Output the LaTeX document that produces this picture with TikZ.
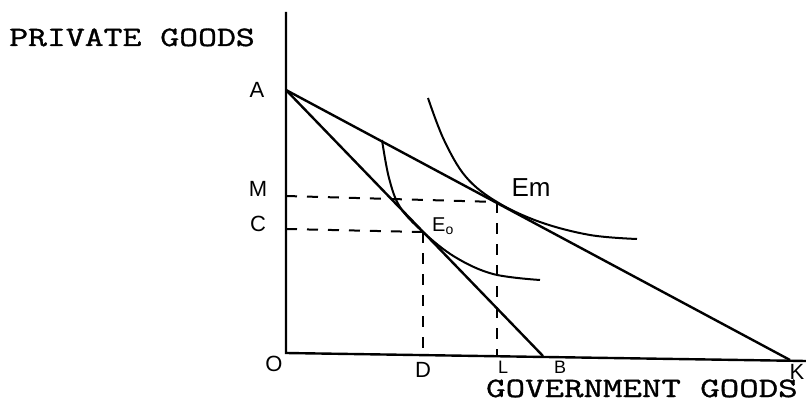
\documentclass[tikz,border=0pt]{standalone}
\usepackage{fontspec}
\setsansfont{Liberation Sans}
\newfontfamily\typewa[FakeStretch=1.31,FakeBold=1.2]{Latin Modern Mono}
\newfontfamily\typewb[FakeStretch=1.35,FakeBold=1.2]{Latin Modern Mono}
\begin{document}
\begin{tikzpicture}[x=1pt,y=-1pt,
  axis/.style={line width=2.4pt},
  budget/.style={line width=2.4pt},
  icurve/.style={line width=2pt},
  guide/.style={line width=2pt,dash pattern=on 11pt off 10pt},
  hand/.style={font=\sffamily\fontsize{22}{22}\selectfont,inner sep=0pt},
  title/.style={inner sep=0pt,anchor=base west}]
\useasboundingbox (0,0) rectangle (806,401);
% coordinates
\coordinate (top) at (286,12);
\coordinate (O) at (286,353);
\coordinate (xend) at (806,361);
\coordinate (A) at (286,90);
\coordinate (B) at (543,356);
\coordinate (K) at (790,360);
\coordinate (Em) at (497,202);
\coordinate (E0) at (423,232);
\coordinate (Mpt) at (286,196);
\coordinate (Cpt) at (286,229);
\coordinate (Dpt) at (423,355);
\coordinate (Lpt) at (497,356);
% axes
\draw[axis] (top) -- (O) -- (xend);
% budget lines
\draw[budget] (A) -- (K);
\draw[budget] (A) -- (B);
% indifference curves
\draw[icurve] plot[smooth,tension=0.6] coordinates {(382,140) (389,178) (400,207) (E0) (455,257) (493,274) (540,280)};
\draw[icurve] plot[smooth,tension=0.6] coordinates {(428,98) (444,140) (466,177) (Em) (540,222) (590,235) (637,239)};
% guides
\draw[guide] (Mpt) -- (Em);
\draw[guide] (Cpt) -- (E0);
\draw[guide] (E0) -- (Dpt);
\draw[guide] (Em) -- (Lpt);
% labels
\node[hand] (lA) at (257,90) {A};
\node[hand] (lM) at (258,189) {M};
\node[hand] (lC) at (258,224) {C};
\node[hand,font=\sffamily\fontsize{26}{26}\selectfont] (lEm) at (531,188) {Em};
\node[hand,font=\sffamily\fontsize{20}{20}\selectfont] (lE0) at (443,226) {E\textsubscript{o}};
\node[hand] (lO) at (274,364) {O};
\node[hand] (lD) at (423,370) {D};
\node[hand,font=\sffamily\fontsize{18}{18}\selectfont] (lL) at (503,367) {L};
\node[hand,font=\sffamily\fontsize{18}{18}\selectfont] (lB) at (560,367) {B};
\node[hand] (lK) at (797,372) {K};
\node[title,font=\typewa\fontsize{28}{30}\selectfont] (pg) at (9,46) {PRIVATE GOODS};
\node[title,font=\typewb\fontsize{28}{30}\selectfont] (gg) at (486,397) {GOVERNMENT GOODS};
\end{tikzpicture}
\end{document}
